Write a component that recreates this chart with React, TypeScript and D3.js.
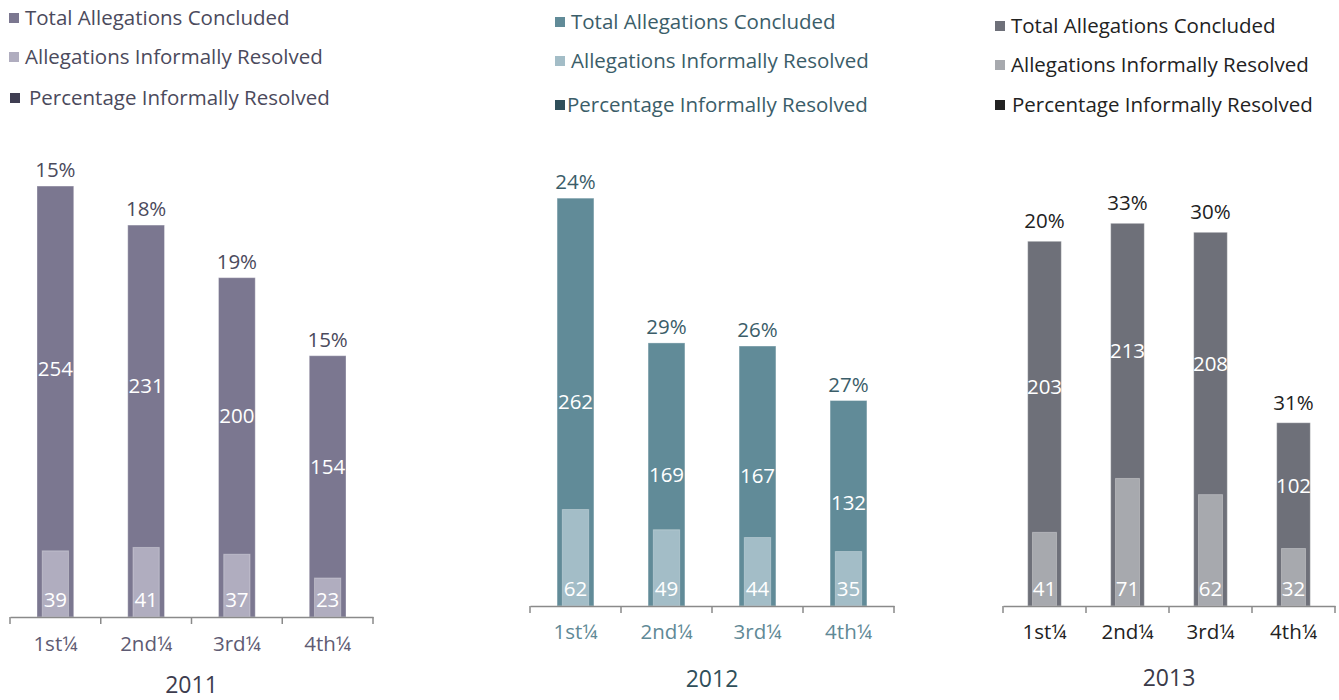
import React, { useEffect, useRef } from 'react';
import * as d3 from 'd3';

// quarters shared by all three panels
const quarters = ['1st¼', '2nd¼', '3rd¼', '4th¼'];
const legendLabels = ['Total Allegations Concluded', 'Allegations Informally Resolved', 'Percentage Informally Resolved'];

const total2011 = [254, 231, 200, 154];
const resolved2011 = [39, 41, 37, 23];
const pct2011 = [15, 18, 19, 15];

const total2012 = [262, 169, 167, 132];
const resolved2012 = [62, 49, 44, 35];
const pct2012 = [24, 29, 26, 27];

const total2013 = [203, 213, 208, 102];
const resolved2013 = [41, 71, 62, 32];
const pct2013 = [20, 33, 30, 31];

const FONT = '"Open Sans", "Noto Sans", sans-serif';
const FS = '20.5px';

const panels = [
  {
    year: '2011', total: total2011, resolved: resolved2011, pct: pct2011,
    x0: 10, x1: 373, axisY: 617, top: 108, pctGap: 9, labelMode: 'upper',
    outer: '#7b7790', inner: '#b0adbf', dark: '#3f3e52',
    text: '#4b4a5c', tick: '#5e5b73', yearColor: '#3d3c4e',
    legendX: 9, legendY: [18, 57, 98], legendTextX: [25, 25, 29], yearY: 685,
  },
  {
    year: '2012', total: total2012, resolved: resolved2012, pct: pct2012,
    x0: 530, x1: 894, axisY: 606, top: 139, pctGap: 9, labelMode: 'center',
    outer: '#618b98', inner: '#a3bdc7', dark: '#2f4f5a',
    text: '#3b5d69', tick: '#5f8996', yearColor: '#2f4f5a',
    legendX: 555, legendY: [22, 61, 105], legendTextX: [571, 571, 567], yearY: 679,
  },
  {
    year: '2013', total: total2013, resolved: resolved2013, pct: pct2013,
    x0: 1003, x1: 1335, axisY: 606, top: 67, pctGap: 13, labelMode: 'upper',
    outer: '#6e7079', inner: '#a7a9ae', dark: '#222222',
    text: '#222222', tick: '#222222', yearColor: '#3a3a48',
    legendX: 995, legendY: [26, 65, 105], legendTextX: [1011, 1011, 1012], yearY: 678,
  },
];

const App = () => {
  const svgRef = useRef<SVGSVGElement>(null);

  useEffect(() => {
    const svg = d3.select(svgRef.current);
    svg.selectAll('*').remove();

    panels.forEach(p => {
      const g = svg.append('g');

      const x = d3.scaleBand().domain(quarters).range([p.x0, p.x1]).padding(0);
      const y = d3.scaleLinear().domain([0, 300]).range([p.axisY, p.top]);
      const bw = x.bandwidth();
      const outerW = bw * 0.405;
      const innerW = bw * 0.29;

      // legend
      const legendColors = [p.outer, p.inner, p.dark];
      legendLabels.forEach((lab, i) => {
        g.append('rect')
          .attr('x', p.legendX + (i === 2 && p.year === '2011' ? 1 : 0))
          .attr('y', p.legendY[i] - 5)
          .attr('width', 10)
          .attr('height', 10)
          .attr('fill', legendColors[i]);
        g.append('text')
          .attr('x', p.legendTextX[i])
          .attr('y', p.legendY[i])
          .attr('dy', '0.35em')
          .attr('fill', p.text)
          .style('font-family', FONT)
          .style('font-size', FS)
          .text(lab);
      });

      // outer bars (total)
      g.selectAll('.outer')
        .data(p.total)
        .enter()
        .append('rect')
        .attr('x', (d, i) => x(quarters[i])! + (bw - outerW) / 2)
        .attr('y', d => y(d))
        .attr('width', outerW)
        .attr('height', d => p.axisY - y(d))
        .attr('fill', p.outer)
        .attr('stroke', '#ffffff')
        .attr('stroke-opacity', 0.35)
        .attr('stroke-width', 1);

      // inner bars (informally resolved)
      g.selectAll('.inner')
        .data(p.resolved)
        .enter()
        .append('rect')
        .attr('x', (d, i) => x(quarters[i])! + (bw - innerW) / 2)
        .attr('y', d => y(d))
        .attr('width', innerW)
        .attr('height', d => p.axisY - y(d))
        .attr('fill', p.inner)
        .attr('stroke', '#ffffff')
        .attr('stroke-opacity', 0.3)
        .attr('stroke-width', 1);

      // total labels
      g.selectAll('.tlab')
        .data(p.total)
        .enter()
        .append('text')
        .attr('x', (d, i) => x(quarters[i])! + bw / 2)
        .attr('y', (d, i) =>
          p.labelMode === 'center'
            ? (y(d) + p.axisY) / 2
            : (y(d) + y(p.resolved[i])) / 2)
        .attr('dy', '0.35em')
        .attr('text-anchor', 'middle')
        .attr('fill', '#ffffff')
        .style('font-family', FONT)
        .style('font-size', FS)
        .text(d => d);

      // resolved labels
      g.selectAll('.rlab')
        .data(p.resolved)
        .enter()
        .append('text')
        .attr('x', (d, i) => x(quarters[i])! + bw / 2)
        .attr('y', p.axisY - 17)
        .attr('dy', '0.35em')
        .attr('text-anchor', 'middle')
        .attr('fill', '#ffffff')
        .style('font-family', FONT)
        .style('font-size', FS)
        .text(d => d);

      // percentage labels
      g.selectAll('.plab')
        .data(p.pct)
        .enter()
        .append('text')
        .attr('x', (d, i) => x(quarters[i])! + bw / 2)
        .attr('y', (d, i) => y(p.total[i]) - p.pctGap)
        .attr('text-anchor', 'middle')
        .attr('fill', p.text)
        .style('font-family', FONT)
        .style('font-size', FS)
        .text(d => d + '%');

      // x axis
      const axis = g.append('g')
        .attr('transform', `translate(0,${p.axisY})`)
        .call(d3.axisBottom(x).tickSize(0).tickSizeOuter(0).tickPadding(p.year === '2011' ? 19 : 18));
      axis.select('.domain').attr('stroke', '#8a8a8a').attr('stroke-width', 1.5);
      axis.selectAll('.tick text')
        .attr('fill', p.tick)
        .style('font-family', FONT)
        .style('font-size', FS);

      // tick separators at band edges
      const edges = quarters.map(q => x(q)!).concat([p.x1]);
      g.selectAll('.sep')
        .data(edges)
        .enter()
        .append('line')
        .attr('x1', d => d)
        .attr('x2', d => d)
        .attr('y1', p.axisY)
        .attr('y2', p.axisY + 7)
        .attr('stroke', '#8a8a8a')
        .attr('stroke-width', 1.5);

      // year title
      g.append('text')
        .attr('x', (p.x0 + p.x1) / 2)
        .attr('y', p.yearY)
        .attr('dy', '0.35em')
        .attr('text-anchor', 'middle')
        .attr('fill', p.yearColor)
        .style('font-family', FONT)
        .style('font-size', '23px')
        .text(p.year);
    });
  }, []);

  return (
    <svg
      ref={svgRef}
      width={1339}
      height={700}
      style={{ position: 'absolute', left: 0, top: 0, background: '#ffffff' }}
    />
  );
};

export default App;
